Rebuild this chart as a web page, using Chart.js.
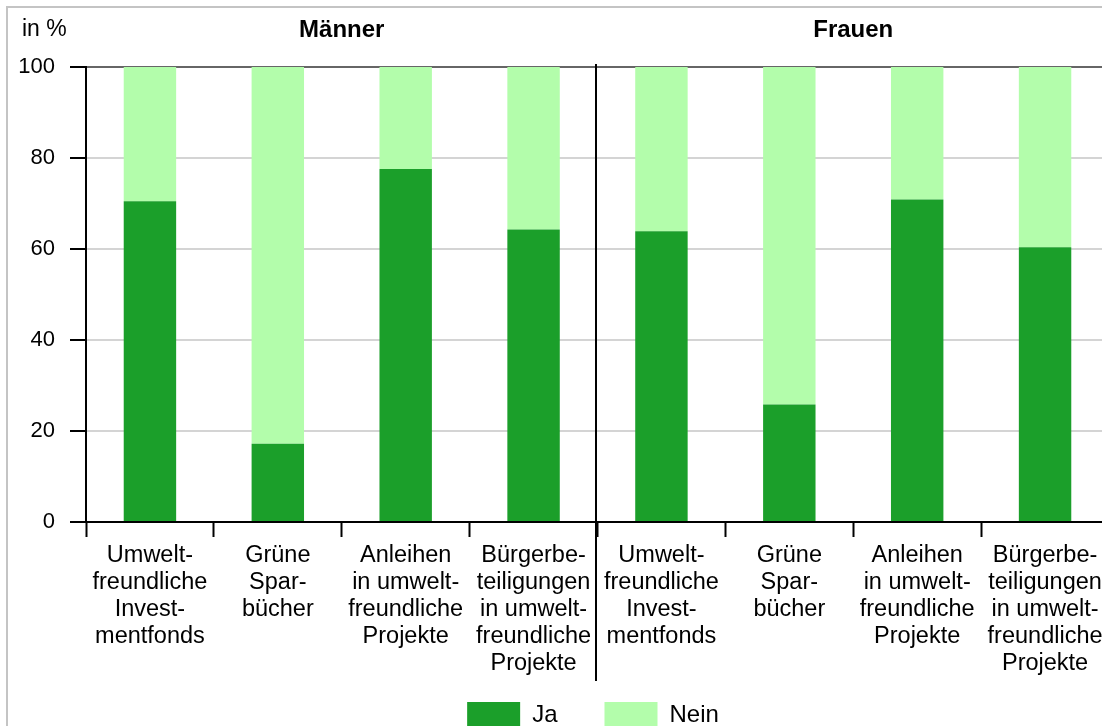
<!DOCTYPE html>
<html>
<head>
<meta charset="utf-8">
<script src="https://cdn.jsdelivr.net/npm/chart.js@4/dist/chart.umd.min.js"></script>
<style>
  body { margin: 0; overflow: hidden; background: #fff; width: 1102px; height: 726px; }
  #frame { position: absolute; left: 6px; top: 6px; width: 1300px; height: 900px; border: 2px solid #c4c4c4; }
  #wrap { position: absolute; left: 0; top: 0; width: 1186px; height: 738px; }
</style>
</head>
<body>
<div id="frame"></div>
<div id="wrap"><canvas id="chart"></canvas></div>
<script>
const categories = [
  ["Umwelt-", "freundliche", "Invest-", "mentfonds"],
  ["Grüne", "Spar-", "bücher"],
  ["Anleihen", "in umwelt-", "freundliche", "Projekte"],
  ["Bürgerbe-", "teiligungen", "in umwelt-", "freundliche", "Projekte"],
  ["Umwelt-", "freundliche", "Invest-", "mentfonds"],
  ["Grüne", "Spar-", "bücher"],
  ["Anleihen", "in umwelt-", "freundliche", "Projekte"],
  ["Bürgerbe-", "teiligungen", "in umwelt-", "freundliche", "Projekte"]
];
const groups = ["Männer", "Frauen"];
const jaValues = [70.5, 17.2, 77.6, 64.3, 63.9, 25.8, 70.9, 60.4];
const neinValues = [29.5, 82.8, 22.4, 35.7, 36.1, 74.2, 29.1, 39.6];
const unitLabel = "in %";

const font = "'Liberation Sans', Arial, sans-serif";

// group titles, unit label and the divider between Männer and Frauen
const groupPlugin = {
  id: "groups",
  afterDraw(chart) {
    const ctx = chart.ctx;
    const x = chart.scales.x;
    const area = chart.chartArea;
    const per = categories.length / groups.length;
    ctx.save();
    ctx.fillStyle = "#000";
    ctx.textBaseline = "middle";
    ctx.font = "23px " + font;
    ctx.textAlign = "left";
    ctx.fillText(unitLabel, 22, 30);
    ctx.font = "bold 24px " + font;
    ctx.textAlign = "center";
    for (let g = 0; g < groups.length; g++) {
      const first = g * per, last = first + per - 1;
      const left = first === 0 ? area.left : (x.getPixelForValue(first - 1) + x.getPixelForValue(first)) / 2;
      const right = last === categories.length - 1 ? area.right : (x.getPixelForValue(last) + x.getPixelForValue(last + 1)) / 2;
      ctx.fillText(groups[g], (left + right) / 2, 30);
    }
    ctx.strokeStyle = "#000";
    ctx.lineWidth = 2;
    for (let g = 1; g < groups.length; g++) {
      const i = g * per;
      const sx = Math.round((x.getPixelForValue(i - 1) + x.getPixelForValue(i)) / 2) - 2;
      ctx.beginPath();
      ctx.moveTo(sx, area.top - 3);
      ctx.lineTo(sx, 681);
      ctx.stroke();
    }
    ctx.restore();
  }
};

new Chart(document.getElementById("chart"), {
  type: "bar",
  data: {
    labels: categories,
    datasets: [
      { label: "Ja", data: jaValues, backgroundColor: "#1b9f2a", borderWidth: 0 },
      { label: "Nein", data: neinValues, backgroundColor: "#b3fdab", borderWidth: 0 }
    ]
  },
  options: {
    responsive: true,
    maintainAspectRatio: false,
    animation: false,
    layout: { padding: { top: 67, left: 0, right: 0, bottom: 0 } },
    categoryPercentage: 1,
    barPercentage: 0.41,
    plugins: {
      tooltip: { enabled: false },
      legend: {
        position: "bottom",
        labels: {
          boxWidth: 53,
          boxHeight: 26,
          padding: 47,
          color: "#000",
          font: { family: font, size: 24 }
        }
      }
    },
    scales: {
      x: {
        stacked: true,
        afterFit(s) {
          s.height = 133;
          // let the long labels run below the axis box instead of being clipped
          s._computeLabelArea = () => undefined;
        },
        grid: { drawOnChartArea: false, tickLength: 15, tickColor: "#000", tickWidth: 2, offset: true },
        border: { color: "#000", width: 2 },
        ticks: {
          color: "#000",
          padding: 5,
          maxRotation: 0,
          autoSkip: false,
          font: { family: font, size: 23.5, lineHeight: 1.15 }
        }
      },
      y: {
        stacked: true,
        min: 0,
        max: 100,
        afterFit(s) { s.width = 86; },
        grid: {
          color: ctx => ctx.tick && ctx.tick.value === 100 ? "#666" : "#d4d4d4",
          lineWidth: 2,
          tickLength: 16,
          tickColor: "#000",
          tickWidth: 2
        },
        border: { color: "#000", width: 2 },
        ticks: {
          stepSize: 20,
          color: "#000",
          padding: 15,
          font: { family: font, size: 22 }
        }
      },
      pad: {
        type: "linear",
        position: "right",
        display: true,
        afterFit(s) { s.width = 77; },
        grid: { display: false, drawTicks: false },
        border: { display: false },
        ticks: { display: false }
      }
    }
  },
  plugins: [groupPlugin]
});
</script>
</body>
</html>
